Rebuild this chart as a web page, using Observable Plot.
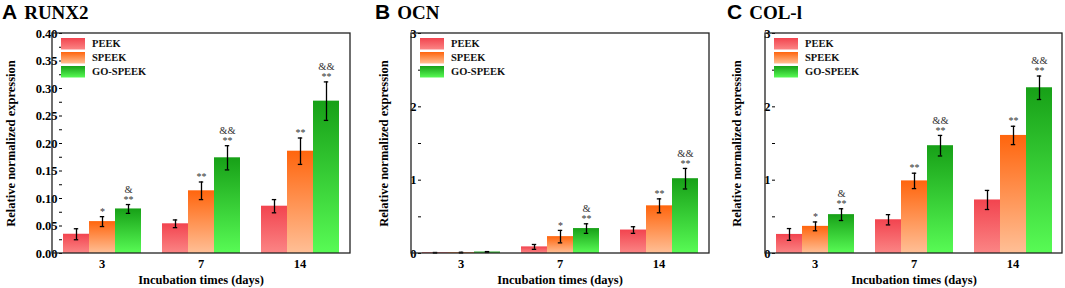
<!DOCTYPE html>
<html><head><meta charset="utf-8">
<script src="https://cdn.jsdelivr.net/npm/d3@7"></script>
<script src="https://cdn.jsdelivr.net/npm/@observablehq/plot@0.6"></script>
<style>
body{margin:0;background:#fff;}
#row{position:relative;width:1065px;height:288px;overflow:hidden;}
.panel{position:absolute;top:0;height:288px;width:355px;}
.panel svg{position:absolute;left:0;top:0;}
.title{position:absolute;top:0;white-space:nowrap;line-height:24px;z-index:2;}
.title .l{font-family:"Liberation Sans";font-weight:bold;font-size:21px;}
.title .g{font-family:"Liberation Serif";font-weight:bold;font-size:19px;margin-left:7px;}
</style></head><body><div id="row"></div>
<script>
const days = ["3", "7", "14"];
const series = ["PEEK", "SPEEK", "GO-SPEEK"];

// values per day (rows: 3, 7, 14), per series (columns: PEEK, SPEEK, GO-SPEEK)
const runx2Mean = [[0.035, 0.058, 0.081], [0.054, 0.114, 0.174], [0.086, 0.186, 0.277]];
const runx2Err  = [[0.010, 0.009, 0.008], [0.007, 0.016, 0.022], [0.012, 0.024, 0.035]];
const runx2Star = [["", "*", "**"], ["", "**", "**"], ["", "**", "**"]];
const runx2Amp  = [["", "", "&"], ["", "", "&&"], ["", "", "&&"]];

const ocnMean = [[0.010, 0.012, 0.020], [0.090, 0.230, 0.340], [0.320, 0.650, 1.020]];
const ocnErr  = [[0.004, 0.005, 0.006], [0.033, 0.085, 0.065], [0.045, 0.095, 0.140]];
const ocnStar = [["", "", ""], ["", "*", "**"], ["", "**", "**"]];
const ocnAmp  = [["", "", ""], ["", "", "&"], ["", "", "&&"]];

const colMean = [[0.26, 0.37, 0.53], [0.46, 0.99, 1.47], [0.73, 1.61, 2.26]];
const colErr  = [[0.08, 0.06, 0.08], [0.07, 0.105, 0.14], [0.13, 0.125, 0.16]];
const colStar = [["", "*", "**"], ["", "**", "**"], ["", "**", "**"]];
const colAmp  = [["", "", "&"], ["", "", "&&"], ["", "", "&&"]];

const runx2Ticks = [0, 0.05, 0.10, 0.15, 0.20, 0.25, 0.30, 0.35, 0.40];
const runx2Minor = [0.025, 0.075, 0.125, 0.175, 0.225, 0.275, 0.325, 0.375];
const ocnTicks = [0, 1, 2, 3];
const ocnMinor = [0.5, 1.5, 2.5];

// gradient colors [top, bottom] per series
const gradTop = ["#f2444f", "#ff650d", "#17a017"];
const gradBottom = ["#fb8585", "#ffbf96", "#58fb55"];

const panels = [
  {key: "a", letter: "A", gene: "RUNX2", left: 0, titleX: 2, mean: runx2Mean, err: runx2Err, star: runx2Star, amp: runx2Amp,
   domain: [0, 0.40], ticks: runx2Ticks, minor: runx2Minor, fmt: d3.format(".2f"), ml: 52, mr: 5, lo: 56},
  {key: "b", letter: "B", gene: "OCN", left: 355, titleX: 20, mean: ocnMean, err: ocnErr, star: ocnStar, amp: ocnAmp,
   domain: [0, 3], ticks: ocnTicks, minor: ocnMinor, fmt: d3.format("d"), ml: 56, mr: 1, lo: 42},
  {key: "c", letter: "C", gene: "COL-l", left: 710, titleX: 17, mean: colMean, err: colErr, star: colStar, amp: colAmp,
   domain: [0, 3], ticks: ocnTicks, minor: ocnMinor, fmt: d3.format("d"), ml: 55, mr: 3, lo: 43}
];

const W = 355, H = 288, MT = 33, MB = 35;
const FONT = "Liberation Serif";
const row = document.getElementById("row");

for (const p of panels) {
  const rows = [];
  days.forEach((d, i) => series.forEach((s, j) => rows.push({
    day: d, series: s, mean: p.mean[i][j], err: p.err[i][j], star: p.star[i][j], amp: p.amp[i][j]
  })));
  const gid = (j) => `grad-${p.key}-${j}`;
  const fx = {fx: "day", x: "series"};
  const chart = Plot.plot({
    width: W, height: H, marginLeft: p.ml, marginRight: p.mr, marginTop: MT, marginBottom: MB,
    style: {fontFamily: FONT, fontWeight: "bold", fontSize: "12.5px", color: "#000", background: "transparent", overflow: "visible"},
    fx: {domain: days, paddingInner: 0.2, paddingOuter: 0.1, label: null},
    x: {domain: series, padding: 0, axis: null},
    y: {domain: p.domain, label: null},
    color: {domain: series, range: series.map((s, j) => `url(#${gid(j)})`)},
    marks: [
      Plot.barY(rows, {...fx, y: "mean", fill: "series"}),
      Plot.ruleX(rows, {...fx, y1: d => d.mean - d.err, y2: d => d.mean + d.err, stroke: "#000", strokeWidth: 1.3}),
      Plot.tickY(rows, {...fx, y: d => d.mean + d.err, insetLeft: 10.8, insetRight: 10.8, stroke: "#000", strokeWidth: 1.3}),
      Plot.tickY(rows, {...fx, y: d => d.mean - d.err, insetLeft: 10.8, insetRight: 10.8, stroke: "#000", strokeWidth: 1.3}),
      Plot.text(rows, {...fx, y: d => d.mean + d.err, text: "star", dy: -5, fontSize: 10, fontWeight: "normal", fill: "#333", lineAnchor: "middle"}),
      Plot.text(rows, {...fx, y: d => d.mean + d.err, text: "amp", dy: -15, fontSize: 10.5, fontWeight: "normal", fill: "#333", lineAnchor: "middle"}),
      Plot.axisY({ticks: p.ticks, tickFormat: p.fmt, tickSize: 3, tickPadding: 2, fontSize: 12.5, fontWeight: "bold", fontFamily: FONT,
                  label: "Relative normalized expression", labelAnchor: "center", labelOffset: p.lo, labelArrow: "none"}),
      Plot.axisY({ticks: p.minor, tickFormat: () => "", tickSize: 3, label: null}),
      Plot.axisFx({anchor: "bottom", tickSize: 0, tickPadding: 6, fontSize: 12.5, fontWeight: "bold", fontFamily: FONT,
                   label: "Incubation times (days)", labelAnchor: "center", labelOffset: 30, labelArrow: "none"})
    ]
  });

  const svg = d3.select(chart);
  const defs = svg.insert("defs", ":first-child");
  series.forEach((s, j) => {
    const g = defs.append("linearGradient").attr("id", gid(j)).attr("x1", 0).attr("y1", 0).attr("x2", 0).attr("y2", 1);
    g.append("stop").attr("offset", "0%").attr("stop-color", gradTop[j]);
    g.append("stop").attr("offset", "100%").attr("stop-color", gradBottom[j]);
  });
  // frame
  svg.append("rect").attr("x", p.ml).attr("y", MT).attr("width", W - p.ml - p.mr).attr("height", H - MT - MB)
    .attr("fill", "none").attr("stroke", "#222").attr("stroke-width", 1.3);
  // legend
  const lg = svg.append("g").attr("transform", `translate(${p.ml + 9},${MT + 5})`);
  series.forEach((s, j) => {
    lg.append("rect").attr("x", 0).attr("y", j * 14).attr("width", 24).attr("height", 11.5).attr("fill", `url(#${gid(j)})`);
    lg.append("text").attr("x", 31).attr("y", j * 14 + 5.75).attr("dy", "0.35em").attr("text-anchor", "start")
      .attr("font-family", FONT).attr("font-weight", "bold").attr("font-size", 10.5).attr("fill", "#111").text(s);
  });

  const div = document.createElement("div");
  div.className = "panel";
  div.style.left = p.left + "px";
  const t = document.createElement("div");
  t.className = "title";
  t.style.left = p.titleX + "px";
  t.innerHTML = `<span class="l">${p.letter}</span><span class="g">${p.gene}</span>`;
  div.appendChild(chart);
  div.appendChild(t);
  row.appendChild(div);
}
</script></body></html>
